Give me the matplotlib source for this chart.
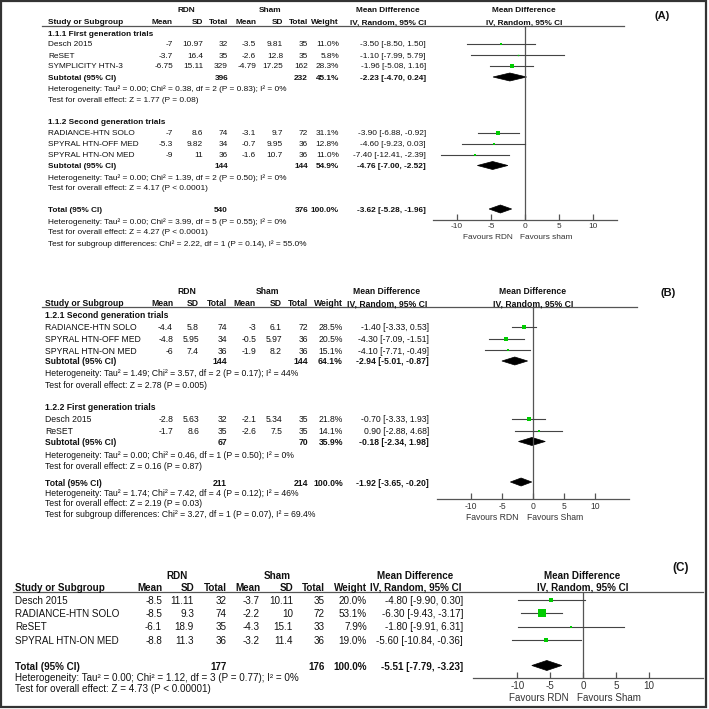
import matplotlib
matplotlib.use("Agg")
import matplotlib.pyplot as plt
from matplotlib.patches import Rectangle, Polygon
from matplotlib.lines import Line2D

plt.rcParams['font.family'] = ['Liberation Sans', 'DejaVu Sans']
plt.rcParams['axes.unicode_minus'] = False

# ======================= DATA =======================
# ---- Panel A ----
A_g1_label = "1.1.1 First generation trials"
A_g1_study = ["Desch 2015", "ReSET", "SYMPLICITY HTN-3"]
A_g1_rdn_mean = [-7, -3.7, -6.75]
A_g1_rdn_sd = [10.97, 16.4, 15.11]
A_g1_rdn_n = [32, 35, 329]
A_g1_sham_mean = [-3.5, -2.6, -4.79]
A_g1_sham_sd = [9.81, 12.8, 17.25]
A_g1_sham_n = [35, 35, 162]
A_g1_weight = [11.0, 5.8, 28.3]
A_g1_md = [-3.50, -1.10, -1.96]
A_g1_lo = [-8.50, -7.99, -5.08]
A_g1_hi = [1.50, 5.79, 1.16]
A_g1_sub = [396, 232, 45.1, -2.23, -4.70, 0.24]
A_g1_het = "Heterogeneity: Tau² = 0.00; Chi² = 0.38, df = 2 (P = 0.83); I² = 0%"
A_g1_test = "Test for overall effect: Z = 1.77 (P = 0.08)"

A_g2_label = "1.1.2 Second generation trials"
A_g2_study = ["RADIANCE-HTN SOLO", "SPYRAL HTN-OFF MED", "SPYRAL HTN-ON MED"]
A_g2_rdn_mean = [-7, -5.3, -9]
A_g2_rdn_sd = [8.6, 9.82, 11]
A_g2_rdn_n = [74, 34, 36]
A_g2_sham_mean = [-3.1, -0.7, -1.6]
A_g2_sham_sd = [9.7, 9.95, 10.7]
A_g2_sham_n = [72, 36, 36]
A_g2_weight = [31.1, 12.8, 11.0]
A_g2_md = [-3.90, -4.60, -7.40]
A_g2_lo = [-6.88, -9.23, -12.41]
A_g2_hi = [-0.92, 0.03, -2.39]
A_g2_sub = [144, 144, 54.9, -4.76, -7.00, -2.52]
A_g2_het = "Heterogeneity: Tau² = 0.00; Chi² = 1.39, df = 2 (P = 0.50); I² = 0%"
A_g2_test = "Test for overall effect: Z = 4.17 (P < 0.0001)"

A_total = [540, 376, 100.0, -3.62, -5.28, -1.96]
A_total_lines = ["Heterogeneity: Tau² = 0.00; Chi² = 3.99, df = 5 (P = 0.55); I² = 0%",
                 "Test for overall effect: Z = 4.27 (P < 0.0001)",
                 "Test for subgroup differences: Chi² = 2.22, df = 1 (P = 0.14), I² = 55.0%"]
A_fav = ["Favours RDN", "Favours sham"]

# ---- Panel B ----
B_g1_label = "1.2.1 Second generation trials"
B_g1_study = ["RADIANCE-HTN SOLO", "SPYRAL HTN-OFF MED", "SPYRAL HTN-ON MED"]
B_g1_rdn_mean = [-4.4, -4.8, -6]
B_g1_rdn_sd = [5.8, 5.95, 7.4]
B_g1_rdn_n = [74, 34, 36]
B_g1_sham_mean = [-3, -0.5, -1.9]
B_g1_sham_sd = [6.1, 5.97, 8.2]
B_g1_sham_n = [72, 36, 36]
B_g1_weight = [28.5, 20.5, 15.1]
B_g1_md = [-1.40, -4.30, -4.10]
B_g1_lo = [-3.33, -7.09, -7.71]
B_g1_hi = [0.53, -1.51, -0.49]
B_g1_sub = [144, 144, 64.1, -2.94, -5.01, -0.87]
B_g1_het = "Heterogeneity: Tau² = 1.49; Chi² = 3.57, df = 2 (P = 0.17); I² = 44%"
B_g1_test = "Test for overall effect: Z = 2.78 (P = 0.005)"

B_g2_label = "1.2.2 First generation trials"
B_g2_study = ["Desch 2015", "ReSET"]
B_g2_rdn_mean = [-2.8, -1.7]
B_g2_rdn_sd = [5.63, 8.6]
B_g2_rdn_n = [32, 35]
B_g2_sham_mean = [-2.1, -2.6]
B_g2_sham_sd = [5.34, 7.5]
B_g2_sham_n = [35, 35]
B_g2_weight = [21.8, 14.1]
B_g2_md = [-0.70, 0.90]
B_g2_lo = [-3.33, -2.88]
B_g2_hi = [1.93, 4.68]
B_g2_sub = [67, 70, 35.9, -0.18, -2.34, 1.98]
B_g2_het = "Heterogeneity: Tau² = 0.00; Chi² = 0.46, df = 1 (P = 0.50); I² = 0%"
B_g2_test = "Test for overall effect: Z = 0.16 (P = 0.87)"

B_total = [211, 214, 100.0, -1.92, -3.65, -0.20]
B_total_lines = ["Heterogeneity: Tau² = 1.74; Chi² = 7.42, df = 4 (P = 0.12); I² = 46%",
                 "Test for overall effect: Z = 2.19 (P = 0.03)",
                 "Test for subgroup differences: Chi² = 3.27, df = 1 (P = 0.07), I² = 69.4%"]
B_fav = ["Favours RDN", "Favours Sham"]

# ---- Panel C ----
C_study = ["Desch 2015", "RADIANCE-HTN SOLO", "ReSET", "SPYRAL HTN-ON MED"]
C_rdn_mean = [-8.5, -8.5, -6.1, -8.8]
C_rdn_sd = [11.11, 9.3, 18.9, 11.3]
C_rdn_n = [32, 74, 35, 36]
C_sham_mean = [-3.7, -2.2, -4.3, -3.2]
C_sham_sd = [10.11, 10, 15.1, 11.4]
C_sham_n = [35, 72, 33, 36]
C_weight = [20.0, 53.1, 7.9, 19.0]
C_md = [-4.80, -6.30, -1.80, -5.60]
C_lo = [-9.90, -9.43, -9.91, -10.84]
C_hi = [0.30, -3.17, 6.31, -0.36]
C_total = [177, 176, 100.0, -5.51, -7.79, -3.23]
C_total_lines = ["Heterogeneity: Tau² = 0.00; Chi² = 1.12, df = 3 (P = 0.77); I² = 0%",
                 "Test for overall effect: Z = 4.73 (P < 0.00001)"]
C_fav = ["Favours RDN", "Favours Sham"]

ticks = [-10, -5, 0, 5, 10]

# ======================= DRAWING =======================
W = H = 709
fig = plt.figure(figsize=(7.09, 7.09), dpi=100)
TXT = '#111111'
GREEN = '#00cc00'
LINE = '#555555'


def fx(x):
    return x / W


def fy(y):
    return 1 - y / H


def T(x, y, s, fs, ha='left', bold=False, color=TXT):
    fig.text(fx(x), fy(y), s, fontsize=fs, ha=ha, va='center_baseline',
             fontweight='bold' if bold else 'normal', color=color)


def hline(x0, x1, y):
    fig.add_artist(Line2D([fx(x0), fx(x1)], [fy(y), fy(y)], transform=fig.transFigure,
                          color=LINE, lw=0.9))


def g(v):
    return f"{v:g}"


def ci(md, lo, hi):
    return f"{md:.2f} [{lo:.2f}, {hi:.2f}]"


def make_forest(L):
    left, right, top, bottom = L['ax_l'], L['ax_r'], L['ax_t'], L['ax_b']
    ax = fig.add_axes([fx(left), fy(bottom), (right - left) / W, (bottom - top) / H])
    ax.set_xlim((left - L['zero']) / L['scale'], (right - L['zero']) / L['scale'])
    ax.set_ylim(bottom, top)
    ax.patch.set_alpha(0)
    for s in ['top', 'left', 'right']:
        ax.spines[s].set_visible(False)
    ax.spines['bottom'].set_color(LINE)
    ax.spines['bottom'].set_linewidth(0.9)
    ax.set_yticks([])
    ax.set_xticks(ticks)
    ax.set_xticklabels([str(t) for t in ticks])
    ax.tick_params(axis='x', direction='in', length=4, width=0.9, color=LINE,
                   labelsize=L['fs'], labelcolor='#333333', pad=L['tpad'])
    ax.axvline(0, color=LINE, lw=0.9)
    return ax


def study_rows(L, ax, ys, names, rm, rs, rn, sm, ss, sn, w, md, lo, hi):
    fs = L['fs']
    c = L['cols']
    for i in range(len(names)):
        y = ys[i]
        T(L['study_x'], y, names[i], fs)
        vals = [g(rm[i]), g(rs[i]), g(rn[i]), g(sm[i]), g(ss[i]), g(sn[i]), f"{w[i]:.1f}%"]
        for v, x in zip(vals, c):
            T(x, y, v, fs, 'right')
        T(L['ci_r'], y, ci(md[i], lo[i], hi[i]), fs, 'right')
        ax.plot([lo[i], hi[i]], [y, y], color='#444444', lw=0.8, clip_on=False)
        side = L['mk'] * w[i] ** 0.75 * 0.72
        ax.plot([md[i]], [y], marker='s', ms=side, color=GREEN, mec=GREEN, mew=0,
                linestyle='none', clip_on=False)


def pooled_row(L, ax, y, label, vals):
    fs = L['fs']
    c = L['cols']
    rn, sn, w, md, lo, hi = vals
    T(L['study_x'], y, label, fs, bold=True)
    T(c[2], y, g(rn), fs, 'right', True)
    T(c[5], y, g(sn), fs, 'right', True)
    T(c[6], y, f"{w:.1f}%", fs, 'right', True)
    T(L['ci_r'], y, ci(md, lo, hi), fs, 'right', True)
    h = L['dh']
    ax.add_patch(Polygon([(lo, y), (md, y - h), (hi, y), (md, y + h)], closed=True,
                         facecolor='black', edgecolor='black', lw=0.5, clip_on=False))


def headers(L):
    fs = L['fs']
    T(L['rdn_x'], L['h1'], "RDN", fs, 'center', True)
    T(L['sham_x'], L['h1'], "Sham", fs, 'center', True)
    T(L['mdc_x'], L['h1'], "Mean Difference", fs, 'center', True)
    T(L['mdp_x'], L['h1'], "Mean Difference", fs, 'center', True)
    T(L['study_x'], L['h2'], "Study or Subgroup", fs, 'left', True)
    for name, x in zip(["Mean", "SD", "Total", "Mean", "SD", "Total", "Weight"], L['cols']):
        T(x, L['h2'], name, fs, 'right', True)
    T(L['mdc_x'], L['h2'], "IV, Random, 95% CI", fs, 'center', True)
    T(L['mdp_x'], L['h2'], "IV, Random, 95% CI", fs, 'center', True)
    T(L['lab_x'], L['lab_y'], L['lab'], L['lab_fs'], 'center', True)
    hline(L['hl_x0'], L['hl_x1'], L['ax_t'])


def favours(L, fav):
    T(L['fav_l'], L['fav_y'], fav[0], L['fs'], 'right', color='#333333')
    T(L['fav_r'], L['fav_y'], fav[1], L['fs'], 'left', color='#333333')


# ---------------- Panel A ----------------
LA = dict(fs=5.95, study_x=48, cols=[173, 203, 228, 256, 283, 308, 339], ci_r=426,
          rdn_x=186, sham_x=270, mdc_x=388, mdp_x=524, h1=10, h2=22,
          lab="(A)", lab_x=662, lab_y=15, lab_fs=8,
          hl_x0=42, hl_x1=624, ax_l=433, ax_r=617, ax_t=26, ax_b=220, zero=525, scale=6.8,
          tpad=2.0, fav_y=237, fav_l=513, fav_r=520, mk=0.37, dh=4)
headers(LA)
axA = make_forest(LA)
T(LA['study_x'], 33, A_g1_label, LA['fs'], bold=True)
study_rows(LA, axA, [44, 55, 66], A_g1_study, A_g1_rdn_mean, A_g1_rdn_sd, A_g1_rdn_n,
           A_g1_sham_mean, A_g1_sham_sd, A_g1_sham_n, A_g1_weight, A_g1_md, A_g1_lo, A_g1_hi)
pooled_row(LA, axA, 77, "Subtotal (95% CI)", A_g1_sub)
T(LA['study_x'], 88.5, A_g1_het, LA['fs'])
T(LA['study_x'], 99.5, A_g1_test, LA['fs'])
T(LA['study_x'], 121, A_g2_label, LA['fs'], bold=True)
study_rows(LA, axA, [132.5, 143.5, 154.5], A_g2_study, A_g2_rdn_mean, A_g2_rdn_sd, A_g2_rdn_n,
           A_g2_sham_mean, A_g2_sham_sd, A_g2_sham_n, A_g2_weight, A_g2_md, A_g2_lo, A_g2_hi)
pooled_row(LA, axA, 165.5, "Subtotal (95% CI)", A_g2_sub)
T(LA['study_x'], 177, A_g2_het, LA['fs'])
T(LA['study_x'], 188, A_g2_test, LA['fs'])
pooled_row(LA, axA, 209, "Total (95% CI)", A_total)
for s, y in zip(A_total_lines, [221, 232, 243]):
    T(LA['study_x'], y, s, LA['fs'])
favours(LA, A_fav)

# ---------------- Panel B ----------------
LB = dict(fs=6.2, study_x=45, cols=[173, 199, 227, 256, 282, 308, 343], ci_r=429,
          rdn_x=187, sham_x=268, mdc_x=387, mdp_x=533, h1=291, h2=303,
          lab="(B)", lab_x=668, lab_y=292, lab_fs=8,
          hl_x0=42, hl_x1=637, ax_l=437, ax_r=629, ax_t=307, ax_b=499, zero=533, scale=6.2,
          tpad=2.5, fav_y=517, fav_l=518, fav_r=527, mk=0.37, dh=4)
headers(LB)
axB = make_forest(LB)
T(LB['study_x'], 315, B_g1_label, LB['fs'], bold=True)
study_rows(LB, axB, [326.5, 338.5, 350], B_g1_study, B_g1_rdn_mean, B_g1_rdn_sd, B_g1_rdn_n,
           B_g1_sham_mean, B_g1_sham_sd, B_g1_sham_n, B_g1_weight, B_g1_md, B_g1_lo, B_g1_hi)
pooled_row(LB, axB, 361, "Subtotal (95% CI)", B_g1_sub)
T(LB['study_x'], 373, B_g1_het, LB['fs'])
T(LB['study_x'], 384.5, B_g1_test, LB['fs'])
T(LB['study_x'], 407, B_g2_label, LB['fs'], bold=True)
study_rows(LB, axB, [419, 430.5], B_g2_study, B_g2_rdn_mean, B_g2_rdn_sd, B_g2_rdn_n,
           B_g2_sham_mean, B_g2_sham_sd, B_g2_sham_n, B_g2_weight, B_g2_md, B_g2_lo, B_g2_hi)
pooled_row(LB, axB, 441.5, "Subtotal (95% CI)", B_g2_sub)
T(LB['study_x'], 454, B_g2_het, LB['fs'])
T(LB['study_x'], 465.5, B_g2_test, LB['fs'])
pooled_row(LB, axB, 482, "Total (95% CI)", B_total)
for s, y in zip(B_total_lines, [492.5, 503, 513.5]):
    T(LB['study_x'], y, s, LB['fs'])
favours(LB, B_fav)

# ---------------- Panel C ----------------
LC = dict(fs=7.1, study_x=15, cols=[162, 194, 227, 260, 293, 325, 367], ci_r=463,
          rdn_x=177, sham_x=277, mdc_x=415.5, mdp_x=582.5, h1=575, h2=587,
          lab="(C)", lab_x=681, lab_y=567, lab_fs=8.5,
          hl_x0=13, hl_x1=703, ax_l=473, ax_r=703, ax_t=592, ax_b=678, zero=583, scale=6.57,
          tpad=2.5, fav_y=697, fav_l=569, fav_r=577, mk=0.44, dh=5)
headers(LC)
axC = make_forest(LC)
study_rows(LC, axC, [600, 613, 626.5, 640], C_study, C_rdn_mean, C_rdn_sd, C_rdn_n,
           C_sham_mean, C_sham_sd, C_sham_n, C_weight, C_md, C_lo, C_hi)
pooled_row(LC, axC, 665.5, "Total (95% CI)", C_total)
for s, y in zip(C_total_lines, [677, 688.5]):
    T(LC['study_x'], y, s, LC['fs'])
favours(LC, C_fav)

# outer frame
fig.add_artist(Rectangle((fx(1), fy(707)), 705 / W, 706 / H, transform=fig.transFigure,
                         fill=False, ec='#333333', lw=1.6))

fig.savefig("out.png", dpi=100)
